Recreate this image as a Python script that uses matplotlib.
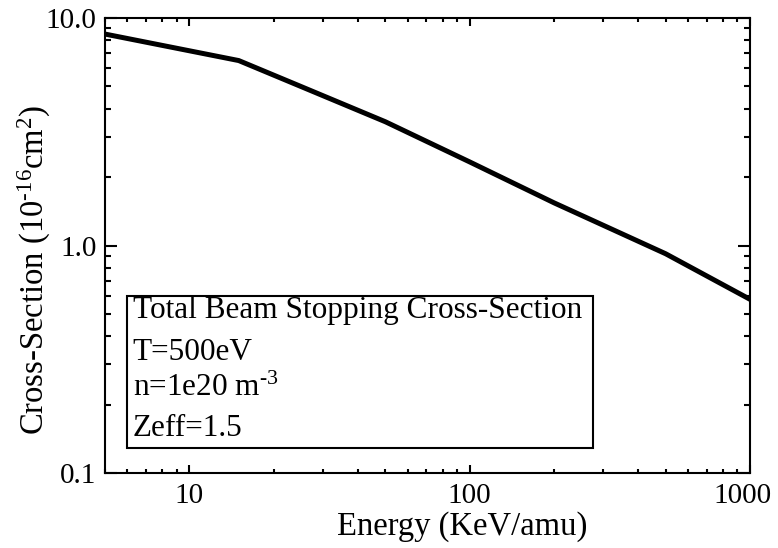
import matplotlib
matplotlib.use('Agg')
import matplotlib.pyplot as plt
from matplotlib.patches import Rectangle
from matplotlib.transforms import ScaledTranslation
from matplotlib.ticker import FixedLocator, FixedFormatter, LogLocator, NullFormatter

# beam stopping cross-section vs energy
energy = [5, 15, 25, 50, 100, 200, 500, 1000]
sigma = [8.5, 6.5, 5.0, 3.5, 2.33, 1.54, 0.92, 0.58]

xticks = [10, 100, 1000]
xticklabels = ['10', '100', '1000']
yticks = [0.1, 1.0, 10.0]
yticklabels = ['0.1', '1.0', '10.0']
legend_lines = ['Total Beam Stopping Cross-Section', 'T=500eV',
                r'n=1e20 m$^{\text{-3}}$', 'Zeff=1.5']

plt.rcParams['font.family'] = ['Liberation Serif', 'DejaVu Serif']
plt.rcParams['mathtext.fontset'] = 'custom'
plt.rcParams['mathtext.rm'] = 'Liberation Serif'
plt.rcParams['mathtext.it'] = 'Liberation Serif'
plt.rcParams['mathtext.default'] = 'rm'

FS = 23.5
LFS = 22.5
TFS = 21
px = 72 / 100  # points per pixel

fig = plt.figure(figsize=(7.78, 5.48), dpi=100, facecolor='white')
ax = fig.add_axes([105 / 778, 1 - 473 / 548, 645 / 778, 455 / 548])

ax.plot(energy, sigma, color='black', lw=3.6, solid_joinstyle='miter')
ax.set_xscale('log')
ax.set_yscale('log')
ax.set_xlim(5, 1000)
ax.set_ylim(0.1, 10)

ax.xaxis.set_major_locator(FixedLocator(xticks))
ax.xaxis.set_major_formatter(FixedFormatter(xticklabels))
ax.yaxis.set_major_locator(FixedLocator(yticks))
ax.yaxis.set_major_formatter(FixedFormatter(yticklabels))
for axis in (ax.xaxis, ax.yaxis):
    axis.set_minor_locator(LogLocator(base=10, subs=range(2, 10)))
    axis.set_minor_formatter(NullFormatter())

ax.tick_params(which='both', direction='in', top=True, right=True,
               width=1.5, labelsize=TFS, color='black')
ax.tick_params(axis='x', which='major', length=8 * px, pad=7)
ax.tick_params(axis='x', which='minor', length=4 * px)
ax.tick_params(axis='y', which='major', length=12 * px, pad=6)
ax.tick_params(axis='y', which='minor', length=6 * px)
for sp in ax.spines.values():
    sp.set_linewidth(1.5)

# the 1000 label sits a little left of its tick in the original
last = ax.xaxis.get_major_ticks()[-1].label1
last.set_transform(last.get_transform() + ScaledTranslation(-8 / 100, 0, fig.dpi_scale_trans))

ax.set_xlabel('Energy (KeV/amu)', fontsize=FS)
ax.xaxis.set_label_coords((462 - 105) / 645, -0.085)
ax.set_ylabel(r'Cross-Section (10$^{\text{-16}}$cm$^{2}$)', fontsize=FS)
ax.yaxis.set_label_coords(-0.08, (473 - 270) / 455)

ax.add_patch(Rectangle((0.034, 0.055), 0.723, 0.334, transform=ax.transAxes,
                       fill=False, edgecolor='black', lw=1.5, zorder=3))
for txt, yy in zip(legend_lines, [0.358, 0.265, 0.185, 0.098]):
    ax.text(0.043, yy, txt, transform=ax.transAxes, fontsize=LFS,
            va='center', ha='left')

fig.savefig('out.png', dpi=100, facecolor='white')
